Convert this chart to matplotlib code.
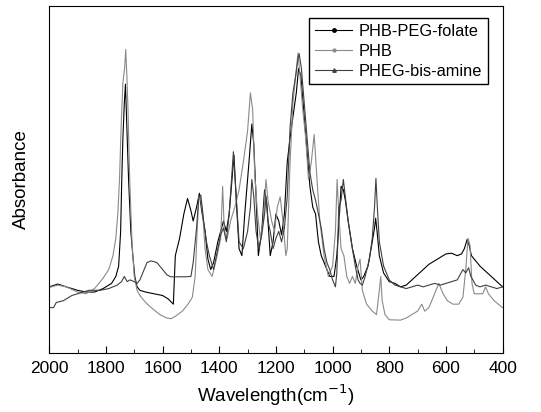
import matplotlib
matplotlib.use("Agg")
import matplotlib.pyplot as plt
from matplotlib.lines import Line2D

plt.rcParams['font.family'] = ['Liberation Sans', 'DejaVu Sans']

# PHB-PEG-folate
wn_folate = [2000, 1970, 1940, 1900, 1870, 1840, 1810, 1780, 1765, 1755, 1748, 1744, 1740, 1735,
             1731, 1726, 1720, 1712, 1705, 1698, 1690, 1680, 1660, 1630, 1600, 1580, 1568, 1562,
             1555, 1540, 1525, 1512, 1500, 1492, 1480, 1470, 1462, 1450, 1440, 1430, 1420, 1405,
             1395, 1385, 1375, 1365, 1355, 1348, 1340, 1330, 1320, 1310, 1295, 1285, 1278, 1270,
             1262, 1250, 1240, 1232, 1220, 1210, 1200, 1190, 1180, 1170, 1160, 1150, 1140, 1128,
             1120, 1112, 1100, 1090, 1080, 1070, 1060, 1050, 1040, 1025, 1010, 995, 985, 977,
             970, 962, 955, 945, 930, 915, 900, 890, 875, 862, 852, 848, 843, 835, 820, 800,
             780, 760, 740, 720, 700, 680, 660, 640, 620, 600, 580, 560, 545, 535, 525, 518,
             510, 500, 480, 460, 440, 420, 400]
ab_folate = [19.0, 19.8, 19.0, 18.0, 17.5, 17.5, 18.5, 20.0, 22.0, 25.0, 35.0, 50.0, 62.0, 72.0,
             77.5, 65.0, 50.0, 35.0, 28.0, 22.0, 19.0, 18.0, 17.5, 17.0, 16.5, 15.5, 14.5, 14.0,
             28.0, 33.0, 40.0, 44.5, 41.0, 38.0, 42.0, 46.0, 41.0, 35.0, 27.0, 24.0, 26.0, 32.0,
             35.0, 38.0, 35.0, 40.0, 50.0, 57.0, 44.0, 30.0, 28.0, 40.0, 55.0, 66.0, 60.0, 45.0,
             28.0, 35.0, 47.0, 43.0, 28.0, 32.0, 40.0, 38.0, 34.0, 40.0, 55.0, 62.0, 68.0, 75.0,
             82.0, 80.0, 68.0, 58.0, 48.0, 42.0, 40.0, 32.0, 28.0, 25.0, 22.0, 22.0, 28.0, 38.0,
             48.0, 47.0, 44.0, 38.0, 30.0, 25.0, 21.0, 22.0, 25.0, 31.0, 36.0, 38.8, 35.0, 28.0,
             23.0, 20.5, 20.0, 19.0, 19.5, 21.0, 22.5, 24.0, 25.5, 26.5, 27.5, 28.5, 28.7, 28.0,
             28.5, 30.0, 32.7, 31.0, 28.0, 27.0, 25.0, 23.5, 22.0, 20.5, 19.0]

# PHB
wn_phb = [2000, 1970, 1940, 1900, 1870, 1840, 1810, 1790, 1775, 1765, 1758, 1752, 1746, 1740,
          1734, 1730, 1726, 1722, 1716, 1708, 1700, 1690, 1680, 1660, 1640, 1610, 1585, 1570,
          1555, 1530, 1510, 1495, 1485, 1478, 1472, 1465, 1458, 1450, 1440, 1425, 1410, 1395,
          1388, 1382, 1372, 1360, 1345, 1330, 1315, 1300, 1290, 1282, 1275, 1265, 1255, 1245,
          1235, 1228, 1215, 1205, 1195, 1185, 1175, 1165, 1160, 1150, 1140, 1130, 1122, 1115,
          1105, 1095, 1085, 1075, 1065, 1055, 1045, 1030, 1015, 1000, 990, 984, 978, 970,
          960, 950, 940, 930, 920, 910, 903, 895, 880, 860, 845, 835, 830, 825, 815, 800,
          760, 740, 720, 700, 685, 675, 660, 640, 625, 610, 595, 575, 555, 540, 530, 522,
          515, 508, 500, 490, 470, 460, 450, 430, 415, 400]
ab_phb = [18.8, 19.5, 19.0, 17.5, 17.0, 18.5, 21.5, 24.0, 28.0, 33.0, 40.0, 50.0, 66.0, 78.0,
          82.0, 87.5, 80.0, 70.0, 50.0, 32.0, 22.0, 18.0, 16.5, 14.5, 13.0, 11.0, 10.0, 9.8,
          10.5, 12.0, 14.0, 16.0, 22.0, 35.0, 45.0, 44.0, 40.0, 30.0, 24.0, 22.0, 27.0, 33.0,
          48.0, 35.0, 33.0, 38.0, 42.0, 47.0, 55.0, 64.0, 75.0, 70.0, 52.0, 40.0, 33.0, 38.0,
          50.0, 44.0, 38.0, 35.0, 42.0, 45.0, 38.0, 28.0, 30.0, 55.0, 72.0, 80.0, 86.5, 80.0,
          70.0, 62.0, 50.0, 55.0, 63.0, 50.0, 38.0, 28.0, 22.0, 25.0, 35.0, 50.0, 40.0, 30.0,
          28.0, 22.0, 20.0, 22.0, 20.0, 25.0, 27.0, 18.0, 14.0, 12.0, 11.0, 18.0, 22.0, 15.0,
          11.0, 9.5, 9.4, 10.0, 11.0, 12.0, 14.0, 12.0, 13.0, 17.0, 20.0, 17.0, 15.0, 14.0,
          14.0, 16.0, 24.0, 33.0, 31.0, 20.0, 17.0, 17.0, 17.0, 19.0, 17.0, 15.0, 14.0, 13.0]

# PHEG-bis-amine
wn_peg = [2000, 1985, 1975, 1950, 1920, 1900, 1880, 1860, 1840, 1820, 1790, 1775, 1760, 1745,
          1735, 1725, 1715, 1700, 1690, 1680, 1670, 1655, 1640, 1620, 1600, 1585, 1572, 1565,
          1540, 1520, 1500, 1492, 1480, 1472, 1465, 1455, 1445, 1435, 1420, 1405, 1395, 1385,
          1375, 1365, 1350, 1340, 1330, 1315, 1300, 1290, 1285, 1278, 1270, 1260, 1250, 1240,
          1235, 1228, 1220, 1210, 1200, 1190, 1180, 1170, 1160, 1150, 1140, 1130, 1122, 1118,
          1110, 1100, 1090, 1080, 1070, 1060, 1050, 1040, 1030, 1020, 1010, 1000, 990, 985,
          978, 970, 962, 955, 945, 930, 920, 910, 903, 895, 885, 870, 860, 852, 847, 842,
          835, 820, 800, 780, 760, 740, 720, 700, 680, 660, 640, 620, 600, 580, 560, 550,
          540, 530, 520, 512, 505, 495, 480, 460, 440, 420, 400]
ab_peg = [13.0, 13.0, 14.5, 15.0, 16.5, 17.0, 17.5, 18.0, 18.0, 18.0, 18.5, 19.0, 19.5, 20.5,
          22.0, 20.5, 21.0, 20.5, 20.0, 21.0, 23.0, 26.0, 26.5, 26.0, 24.0, 22.5, 21.9, 21.9,
          21.9, 21.9, 22.0, 26.0, 36.0, 45.0, 45.5, 38.0, 32.0, 28.0, 24.0, 30.0, 34.0, 36.0,
          32.0, 40.0, 58.0, 45.0, 32.0, 30.0, 35.0, 42.0, 50.0, 45.0, 35.0, 30.0, 34.0, 40.0,
          45.0, 38.0, 35.0, 30.0, 33.0, 35.0, 32.0, 36.0, 45.0, 65.0, 75.0, 80.0, 85.0, 86.3,
          82.0, 72.0, 62.0, 52.0, 47.0, 44.0, 40.0, 36.0, 30.0, 26.0, 24.0, 21.0, 19.0, 23.0,
          42.0, 44.0, 50.0, 45.0, 38.0, 30.0, 25.0, 21.0, 20.0, 19.5, 22.0, 27.0, 33.0, 42.0,
          50.3, 42.0, 32.0, 25.0, 21.0, 19.5, 19.0, 18.5, 19.0, 19.5, 19.0, 19.5, 20.0, 19.5,
          20.0, 20.5, 21.0, 22.5, 24.0, 23.0, 24.5, 22.0, 21.0, 19.5, 19.0, 19.5, 19.0, 18.5,
          19.0]

fig = plt.figure(figsize=(5.41, 4.12), dpi=100)
ax = fig.add_axes([0.091, 0.144, 0.838, 0.841])

ax.plot(wn_folate, ab_folate, color='black', lw=0.8)
ax.plot(wn_phb, ab_phb, color='#8a8a8a', lw=0.8)
ax.plot(wn_peg, ab_peg, color='#404040', lw=0.8)

ax.set_xlim(2000, 400)
ax.set_ylim(0, 100)
ax.set_xticks(range(2000, 399, -200))
ax.set_xticks(range(1900, 400, -200), minor=True)
ax.set_yticks([])
ax.tick_params(axis='x', which='major', direction='in', length=5, labelsize=12.5, top=False, pad=6)
ax.tick_params(axis='x', which='minor', direction='in', length=3, top=False)
ax.set_xlabel("Wavelength(cm$^{-1}$)", fontsize=13.5, labelpad=5)
ax.set_ylabel("Absorbance", fontsize=13.5, labelpad=14)

handles = [
    Line2D([], [], color='black', lw=0.8, marker='o', markersize=2.5),
    Line2D([], [], color='#8a8a8a', lw=0.8, marker='o', markersize=2),
    Line2D([], [], color='#404040', lw=0.8, marker='^', markersize=2.5),
]
ax.legend(handles, ["PHB-PEG-folate", "PHB", "PHEG-bis-amine"], loc='upper right',
          fontsize=11.8, fancybox=False, edgecolor='black', framealpha=1,
          handlelength=2.3, handletextpad=0.4, borderpad=0.35, labelspacing=0.3,
          borderaxespad=0, bbox_to_anchor=(0.968, 0.966))

fig.savefig("out.png", dpi=100)
